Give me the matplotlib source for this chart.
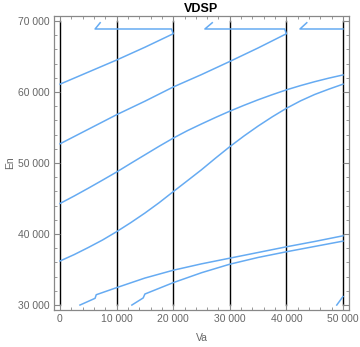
import matplotlib
matplotlib.use("Agg")
import matplotlib.pyplot as plt
from matplotlib.ticker import MultipleLocator, FuncFormatter

# curves (Va, En)
curve_a_x = [0, 5000, 10000, 15000, 20000, 19700, 6200, 7100]
curve_a_y = [61100, 62800, 64500, 66300, 68200, 68870, 68870, 69750]

curve_b_x = [0, 5000, 10000, 15000, 20000, 25000, 30000, 35000, 40000, 39700, 25600, 26900]
curve_b_y = [52700, 54750, 56800, 58700, 60700, 62450, 64300, 66200, 68200, 68870, 68870, 69750]

curve_c_x = [0, 2500, 5000, 7500, 10000, 12500, 15000, 17500, 20000, 22500, 25000,
             27500, 30000, 32500, 35000, 37500, 40000, 42500, 45000, 47500, 50000]
curve_c_y = [44300, 45350, 46450, 47580, 48730, 49950, 51150, 52350, 53500, 54550, 55500,
             56420, 57300, 58120, 58900, 59620, 60300, 60900, 61450, 61950, 62400]

curve_d_x = [0, 2500, 5000, 7500, 10000, 12500, 15000, 17500, 20000, 22500, 25000,
             27500, 30000, 32500, 35000, 37500, 40000, 42500, 45000, 47500, 50000]
curve_d_y = [36200, 37100, 38100, 39150, 40330, 41600, 42950, 44400, 45960, 47500, 49050,
             50700, 52300, 53800, 55200, 56500, 57700, 58750, 59650, 60400, 61100]

curve_e_x = [3530, 6200, 6400, 10000, 15000, 20000, 25000, 30000, 35000, 40000, 45000, 50000]
curve_e_y = [30000, 30950, 31450, 32450, 33800, 34900, 35800, 36600, 37400, 38200, 38950, 39750]

curve_f_x = [12700, 14700, 15000, 17500, 20000, 25000, 30000, 35000, 40000, 45000, 50000]
curve_f_y = [30000, 31000, 31550, 32350, 33150, 34550, 35750, 36700, 37500, 38250, 39000]

curve_g_x = [48900, 50000]
curve_g_y = [30000, 31200]

hook_x = [43600, 42400, 50000]
hook_y = [69750, 68870, 68870]

grid_x = [0, 10000, 20000, 30000, 40000, 50000]
grid_y = [30000, 70000]

blue = "#66abf2"
gray = "#666666"

fig = plt.figure(figsize=(3.6, 3.47), dpi=100)
ax = fig.add_axes([0.15, 0.1066, 0.8194, 0.8473])

for xv in grid_x:
    ax.plot([xv, xv], grid_y, color="black", lw=1.0, zorder=1)

for cx, cy in [(curve_a_x, curve_a_y), (curve_b_x, curve_b_y), (curve_c_x, curve_c_y),
               (curve_d_x, curve_d_y), (curve_e_x, curve_e_y), (curve_f_x, curve_f_y),
               (curve_g_x, curve_g_y), (hook_x, hook_y)]:
    ax.plot(cx, cy, color=blue, lw=1.1, zorder=2)

ax.set_xlim(-1060, 51060)
ax.set_ylim(29300, 70700)

fmt = FuncFormatter(lambda v, p: "0" if v == 0 else f"{int(v):,}".replace(",", " "))
ax.xaxis.set_major_locator(MultipleLocator(10000))
ax.xaxis.set_minor_locator(MultipleLocator(2000))
ax.yaxis.set_major_locator(MultipleLocator(10000))
ax.yaxis.set_minor_locator(MultipleLocator(2000))
ax.xaxis.set_major_formatter(fmt)
ax.yaxis.set_major_formatter(fmt)

ax.tick_params(which="both", direction="in", top=True, right=True, color="#888888",
               labelsize=7.5, labelcolor=gray, labelfontfamily="Liberation Sans")
ax.tick_params(which="major", length=4, width=0.8, pad=3)
ax.tick_params(which="minor", length=2.5, width=0.6)

for s in ax.spines.values():
    s.set_color("#888888")
    s.set_linewidth(0.9)

ax.set_xlabel("Va", color=gray, fontsize=7.5, family="Liberation Sans", labelpad=6)
ax.set_ylabel("En", color=gray, fontsize=7.5, family="Liberation Sans", labelpad=2)
ax.set_title("VDSP", fontsize=9, fontweight="bold", family="Liberation Sans", pad=3)

fig.savefig("out.png", dpi=100)
